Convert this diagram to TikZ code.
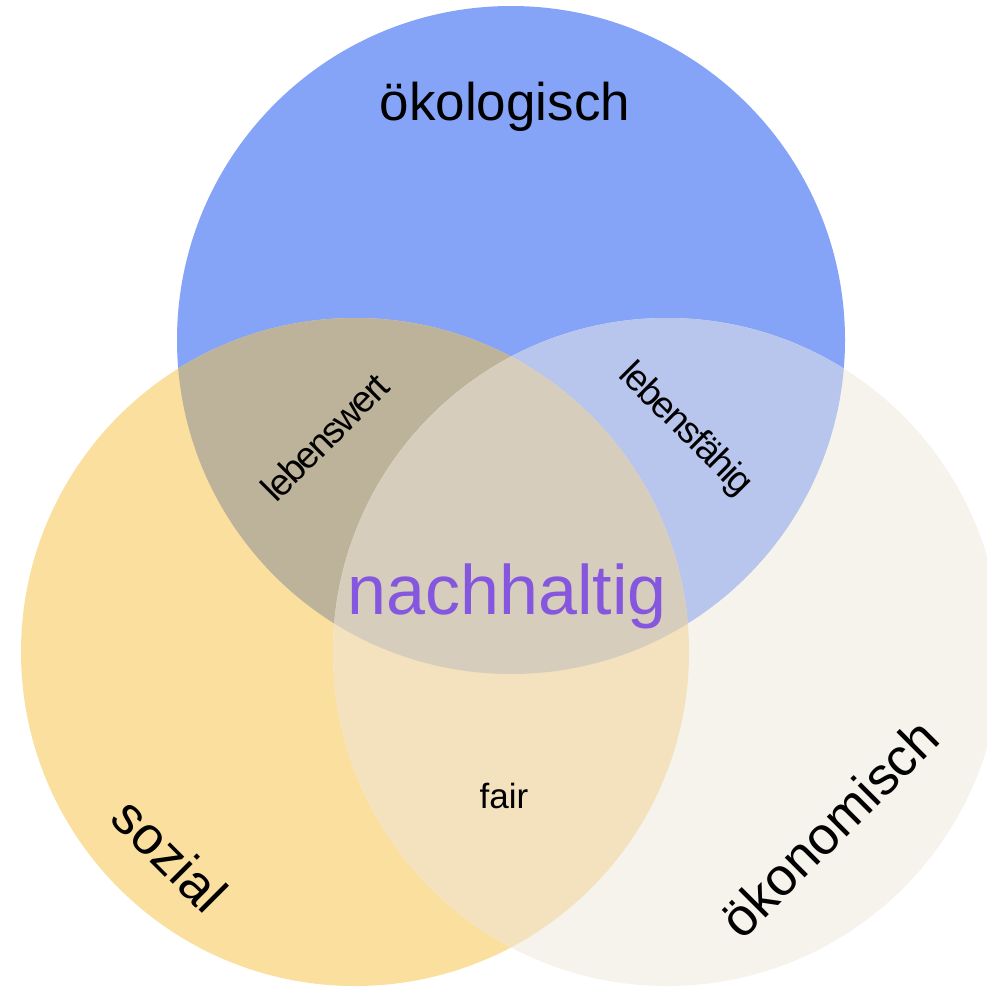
\documentclass[tikz,border=0pt]{standalone}
\usepackage{fontspec}
\setmainfont{Liberation Sans}
\newfontfamily\tightfont[LetterSpace=-5]{Liberation Sans}
\definecolor{cblue}{HTML}{85A3F7}
\definecolor{cyellow}{HTML}{FADF9E}
\definecolor{cbeige}{HTML}{F6F3EC}
\definecolor{cby}{HTML}{BDB29A}
\definecolor{cbb}{HTML}{B8C5EC}
\definecolor{cyb}{HTML}{F4E2BF}
\definecolor{call}{HTML}{D7CDBC}
\definecolor{cpurple}{HTML}{8557DE}
\tikzset{
  biglabel/.style={font=\fontsize{53}{60}\selectfont, text=black, inner sep=0pt},
  pairlabel/.style={font=\tightfont\fontsize{37}{40}\selectfont, text=black, inner sep=0pt},
}
\begin{document}
\begin{tikzpicture}[x=1pt,y=-1pt]
\useasboundingbox (0,0) rectangle (987,986);
\clip (0,0) rectangle (987,986);
\coordinate (B) at (511,340);
\coordinate (Y) at (355,652);
\coordinate (E) at (667,652);
\def\R{334}
\fill[cblue] (B) circle (\R);
\fill[cyellow] (Y) circle (\R);
\fill[cbeige] (E) circle (\R);
\begin{scope}
  \clip (B) circle (\R);
  \fill[cby] (Y) circle (\R);
  \fill[cbb] (E) circle (\R);
\end{scope}
\begin{scope}
  \clip (Y) circle (\R);
  \fill[cyb] (E) circle (\R);
  \clip (E) circle (\R);
  \fill[call] (B) circle (\R);
\end{scope}
\node[biglabel] (oeko) at (505,107) {ökologisch};
\node[biglabel, rotate=-45] (soz) at (170,855) {sozial};
\node[biglabel, rotate=45] (oekon) at (829,828) {ökonomisch};
\node[inner sep=0pt, text=cpurple, font=\fontsize{70}{80}\selectfont] (nach) at (507,596) {nachhaltig};
\node[inner sep=0pt, font=\fontsize{35}{40}\selectfont] (fair) at (504,796) {fair};
\node[pairlabel, rotate=45] (lw) at (325,437) {lebenswert};
\node[pairlabel, rotate=-45] (lf) at (685,430) {lebensfähig};
\end{tikzpicture}
\end{document}
